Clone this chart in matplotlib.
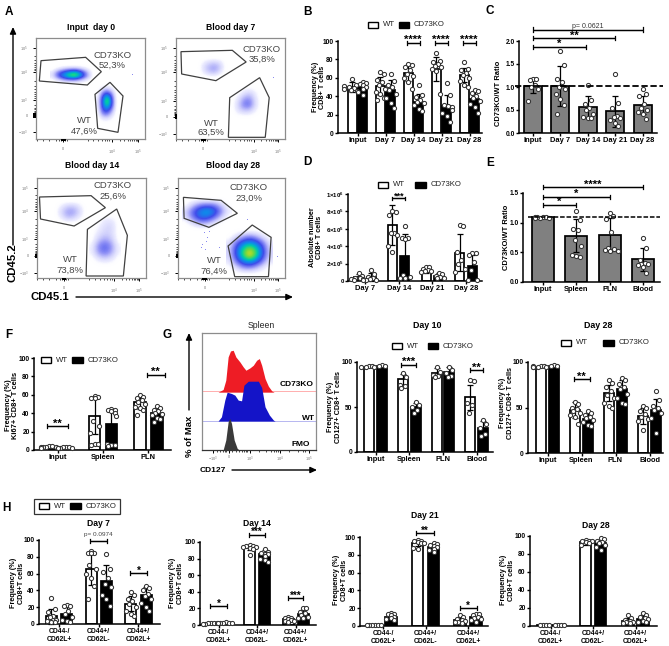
import numpy as np
import matplotlib
matplotlib.use("Agg")
import matplotlib.pyplot as plt
from matplotlib.colors import LinearSegmentedColormap
from matplotlib.patches import Polygon, Rectangle

plt.rcParams['font.family'] = ['Liberation Sans', 'DejaVu Sans']
plt.rcParams['mathtext.fontset'] = 'custom'
plt.rcParams['mathtext.rm'] = 'Liberation Sans'
plt.rcParams['mathtext.bf'] = 'Liberation Sans:bold'

# ---------- data ----------
DAYS5 = ['Input', 'Day 7', 'Day 14', 'Day 21', 'Day 28']
DAYS4 = ['Day 7', 'Day 14', 'Day 21', 'Day 28']
ORG3 = ['Input', 'Spleen', 'PLN']
ORG4 = ['Input', 'Spleen', 'PLN', 'Blood']
PHENO = ['CD44-/\nCD62L+', 'CD44+/\nCD62L-', 'CD44+/\nCD62L+']

B_WT = [50, 51, 65, 70, 63]
B_KO = [50, 47, 34, 29, 37]
B_WT_ERR = [5, 10, 9, 13, 8]
B_KO_ERR = [5, 11, 8, 12, 9]
B_WT_PTS = [[59, 52, 50, 49, 47, 46, 51, 48], [66, 64, 58, 55, 52, 48, 45, 42, 38, 36],
            [75, 74, 72, 68, 64, 62, 60, 55, 48], [87, 78, 77, 75, 73, 72, 70, 67, 42],
            [77, 70, 68, 65, 63, 60, 57, 52, 50]]
B_KO_PTS = [[55, 54, 53, 52, 50, 48, 45, 41], [64, 57, 52, 50, 47, 42, 38, 33, 27],
            [52, 41, 39, 36, 34, 33, 30, 26, 24], [54, 41, 30, 29, 28, 25, 22, 18, 12],
            [47, 46, 43, 40, 38, 35, 32, 28, 22]]

C_RATIO = [1.03, 1.02, 0.56, 0.47, 0.61]
C_ERR = [0.16, 0.43, 0.24, 0.34, 0.20]
C_PTS = [[1.18, 1.17, 1.15, 1.05, 1.0, 0.95, 0.7],
         [1.78, 1.48, 1.18, 1.1, 1.0, 0.95, 0.85, 0.75, 0.6, 0.42],
         [1.05, 0.72, 0.62, 0.55, 0.5, 0.42, 0.35, 0.32, 0.32],
         [1.28, 0.65, 0.55, 0.38, 0.35, 0.32, 0.28, 0.22, 0.15],
         [0.95, 0.85, 0.8, 0.62, 0.55, 0.5, 0.45, 0.42, 0.3]]

D_WT = [0.5e5, 6.4e5, 1.2e5, 3.25e5]
D_KO = [0.5e5, 2.9e5, 0.6e5, 1.75e5]
D_WT_ERR = [0.3e5, 2.3e5, 0.3e5, 2.1e5]
D_KO_ERR = [0.45e5, 2.5e5, 0.3e5, 1.2e5]
D_WT_PTS = [[.9e5, .6e5, .4e5, .3e5, .2e5, .2e5, .1e5],
            [8.0e5, 7.9e5, 7.6e5, 5.5e5, 5.5e5, 5.3e5, 4e5, 3.3e5],
            [1.6e5, 1.6e5, 1.4e5, 1.3e5, 1.2e5, 1.1e5, 1.0e5],
            [6.4e5, 6.3e5, 3.3e5, 2.4e5, 2.0e5, 1.4e5, 1.0e5]]
D_KO_PTS = [[1.3e5, .8e5, .5e5, .3e5, .2e5, .1e5, .1e5, .1e5],
            [6.3e5, 5.0e5, 5.0e5, 4.8e5, .7e5, .5e5, .4e5, .3e5],
            [.9e5, .8e5, .6e5, .5e5, .3e5, .3e5],
            [3.2e5, 3.2e5, 3.0e5, 2.2e5, 1.3e5, .1e5, .1e5]]

E_RATIO = [1.09, 0.78, 0.80, 0.38]
E_ERR = [0.01, 0.28, 0.28, 0.19]
E_PTS = [[1.10, 1.09, 1.08, 1.08, 1.09, 1.10, 1.08],
         [1.19, 1.05, .9, .87, .7, .6, .46, .44, .42],
         [1.17, 1.12, 1.06, .84, .57, .55, .54, .53, .52],
         [.74, .57, .37, .32, .3, .3, .28, .26, .15]]

F_WT = [3, 37.5, 52]
F_KO = [2.5, 28, 40]
F_WT_ERR = [1, 20, 7]
F_KO_ERR = [1, 16, 6]
F_WT_PTS = [[4.5, 4, 3.5, 3.5, 3, 3, 2.5], [59, 58, 57, 56, 31, 26, 18, 7, 6, 5],
            [60, 58, 56, 54, 52, 50, 47, 46, 43, 38]]
F_KO_PTS = [[3.5, 3, 3, 2.5, 2.5, 2, 2], [45, 44, 43, 42, 40, 37, 7, 5, 5, 4],
            [48, 46, 44, 42, 40, 39, 38, 35, 34, 30]]

G10_WT = [95, 81, 88, 61]
G10_KO = [96, 50, 89, 27]
G10_WT_ERR = [1, 6, 5, 14]
G10_KO_ERR = [1, 5, 5, 7]
G10_WT_PTS = [[96, 96, 95, 95], [88, 83, 74, 73, 71], [95, 89, 86, 84, 83], [80, 79, 55, 52, 43]]
G10_KO_PTS = [[97, 96, 96, 95], [56, 52, 50, 47, 43], [94, 91, 88, 85, 83], [36, 31, 27, 20, 18]]

G28_WT = [95, 47, 66, 41]
G28_KO = [96, 37, 70, 47]
G28_WT_ERR = [1, 9, 9, 9]
G28_KO_ERR = [1, 7, 10, 12]
G28_WT_PTS = [[96, 96, 95, 95, 96, 94], [56, 54, 50, 48, 46, 44, 42, 40, 32],
              [80, 77, 72, 68, 64, 60, 55, 52, 50], [52, 50, 46, 43, 40, 37, 35, 25]]
G28_KO_PTS = [[97, 96, 96, 95], [46, 44, 42, 40, 38, 36, 34, 31, 30],
              [82, 80, 76, 72, 70, 65, 60, 55, 54], [68, 58, 52, 49, 47, 44, 38, 22]]

H7_WT = [9, 65, 24]
H7_KO = [12, 51, 34]
H7_WT_ERR = [9, 19, 9]
H7_KO_ERR = [8, 19, 10]
H7_WT_PTS = [[31, 18, 14, 10, 8, 5, 3, 2, 2], [87, 85, 84, 84, 70, 66, 60, 55, 45, 30],
             [38, 35, 30, 27, 24, 20, 15, 12, 10]]
H7_KO_PTS = [[23, 22, 21, 15, 12, 8, 5, 3, 2], [83, 65, 62, 55, 48, 44, 35, 30, 22],
             [45, 43, 40, 36, 33, 30, 25, 20, 16]]

H14_WT = [2, 93, 7]
H14_KO = [2.5, 85, 13]
H14_WT_ERR = [1, 3, 2]
H14_KO_ERR = [1, 5, 5]
H14_WT_PTS = [[3, 2, 2, 2, 1.5, 1.5], [96, 95, 95, 94, 94, 93, 92, 84], [10, 9, 8, 7, 6, 5, 5, 4]]
H14_KO_PTS = [[4, 3, 3, 2.5, 2, 2], [91, 88, 87, 86, 85, 83, 80, 78, 76], [20, 20, 16, 14, 12, 10, 9, 8]]

H21_WT = [1, 93, 7]
H21_KO = [10, 89, 10]
H21_WT_ERR = [.5, 3, 3]
H21_KO_ERR = [2, 3, 3]
H21_WT_PTS = [[1, 1, 1, 1, 1, 1], [97, 96, 95, 94, 93, 93, 88, 87], [12, 10, 8, 7, 6, 5, 4, 3]]
H21_KO_PTS = [[15, 14, 13, 12, 10, 9, 8, 7], [93, 92, 91, 90, 89, 87, 85, 83], [14, 13, 12, 10, 9, 8, 7, 5]]

H28_WT = [1, 93, 6]
H28_KO = [1, 92, 8]
H28_WT_ERR = [.3, 3, 3]
H28_KO_ERR = [.3, 4, 4]
H28_WT_PTS = [[1, 1, 1, 1], [96, 95, 94, 94, 93, 92, 90], [12, 9, 7, 6, 5, 4, 3, 3]]
H28_KO_PTS = [[1, 1, 1, 1], [98, 97, 95, 93, 92, 90, 88, 85], [15, 12, 10, 9, 8, 6, 5, 4]]

# histogram outlines of panel G (channel, height above each baseline)
KO_HIST_X = [48, 63, 71, 78, 85, 93, 101, 113, 123, 131, 143, 153, 163, 171, 178, 188, 198, 208, 215]
KO_HIST_Y = [0, 8, 36, 106, 124, 126, 106, 91, 76, 66, 73, 81, 96, 101, 81, 41, 18, 4, 0]
WT_HIST_X = [48, 58, 68, 75, 88, 98, 108, 118, 125, 138, 153, 168, 178, 188, 201, 213, 218]
WT_HIST_Y = [0, 13, 63, 87, 83, 78, 63, 61, 108, 120, 120, 120, 101, 43, 18, 3, 0]
FMO_HIST_X = [63, 71, 78, 83, 88, 96, 105, 111]
FMO_HIST_Y = [0, 30, 85, 95, 80, 30, 5, 0]

# flow plots of panel A: titles, percentages, gates and density grids
FLOW_TITLES = ['Input  day 0', 'Blood day 7', 'Blood day 14', 'Blood day 28']
FLOW_KO_PCT = ['52,3%', '35,8%', '25,6%', '23,0%']
FLOW_WT_PCT = ['47,6%', '63,5%', '73,8%', '76,4%']
GATES_KO = [[(123, 182), (257, 172), (304, 215), (262, 255), (118, 243)],
            [(539, 155), (695, 151), (737, 186), (645, 242), (541, 222)],
            [(118, 591), (273, 587), (316, 623), (222, 678), (121, 657)],
            [(548, 592), (662, 601), (711, 640), (625, 682), (550, 655)]]
GATES_WT = [[(285, 283), (330, 247), (369, 288), (354, 397), (293, 385)],
            [(687, 293), (778, 233), (807, 293), (795, 412), (683, 412)],
            [(262, 688), (350, 627), (382, 706), (370, 828), (258, 828)],
            [(683, 738), (756, 675), (813, 712), (805, 830), (703, 830)]]
DENS_EXTENT = [[(150, 285, 256, 194), (288, 352, 376, 250)],
               [(588, 682, 236, 168), (688, 786, 356, 254)],
               [(158, 262, 676, 598), (268, 362, 804, 636)],
               [(544, 694, 692, 592), (678, 819, 829, 686)]]
DENS = [[[[0, 0, 0, 0, 0, 0, 0, 0], [0, .06, .14, .2, .22, .14, .05, 0], [.05, .3, .46, .6, .68, .48, .2, 0],
          [.06, .32, .5, .68, .74, .5, .22, 0], [0, .08, .18, .24, .24, .14, .04, 0], [0, 0, 0, 0, 0, 0, 0, 0]],
         [[0, 0, 0, 0, 0], [0, .1, .18, .08, 0], [0, .3, .5, .28, 0], [.04, .42, .76, .42, 0],
          [.04, .42, .72, .42, 0], [.03, .36, .5, .28, 0], [0, .24, .3, .12, 0], [0, .06, .08, .03, 0], [0, 0, 0, 0, 0]]],
        [[[0, 0, 0, 0, 0, 0], [0, .05, .1, .12, .07, 0], [0, .1, .17, .2, .12, 0],
          [0, .06, .13, .15, .05, 0], [0, 0, 0, 0, 0, 0]],
         [[0, 0, 0, 0, 0, 0], [0, 0, .05, .1, .04, 0], [0, .05, .18, .22, .08, 0],
          [0, .1, .26, .3, .1, 0], [0, .07, .13, .12, .04, 0], [0, 0, 0, 0, 0, 0]]],
        [[[0, 0, 0, 0, 0, 0], [0, .05, .12, .13, .06, 0], [0, .1, .2, .2, .1, 0],
          [0, .05, .15, .12, .04, 0], [0, 0, 0, 0, 0, 0]],
         [[0, 0, 0, 0, 0], [0, 0, .06, .07, 0], [0, .03, .09, .1, 0], [0, .06, .11, .09, 0],
          [0, .12, .2, .13, 0], [.03, .24, .32, .22, .03], [.03, .2, .28, .18, .03],
          [0, .06, .1, .06, 0], [0, 0, 0, 0, 0]]],
        [[[0, 0, 0, 0, 0, 0, 0], [0, .12, .26, .3, .28, .12, 0], [.08, .3, .48, .58, .46, .24, .04],
          [.06, .27, .44, .46, .32, .11, 0], [0, .08, .2, .18, .06, 0, 0], [0, 0, 0, 0, 0, 0, 0]],
         [[0, 0, 0, 0, 0, 0, 0], [0, .07, .18, .26, .18, .07, 0], [.05, .27, .46, .56, .46, .26, .05],
          [.09, .38, .64, .82, .66, .38, .09], [.09, .38, .68, .94, .7, .38, .09],
          [.05, .27, .48, .58, .46, .25, .05], [0, .08, .22, .26, .17, .06, 0], [0, 0, 0, 0, 0, 0, 0]]]]
STRAY_X = [610, 618, 605, 612, 625, 600, 615, 740, 655, 830, 395, 820]
STRAY_Y = [700, 715, 735, 750, 695, 745, 725, 660, 745, 770, 225, 235]

W, H = 669, 646
fig = plt.figure(figsize=(W / 100, H / 100), dpi=100, facecolor='white')


def make_ax(l, t, r, b):
    return fig.add_axes([l / W, 1 - b / H, (r - l) / W, (b - t) / H])


def style(ax):
    ax.patch.set_alpha(0)
    for s in ['top', 'right']:
        ax.spines[s].set_visible(False)
    for s in ['left', 'bottom']:
        ax.spines[s].set_linewidth(1.1)
    ax.tick_params(length=2.2, width=1.0, pad=0.9, labelsize=5.4)
    ax.tick_params(axis='y', labelsize=4.8)
    for lab in ax.get_xticklabels() + ax.get_yticklabels():
        lab.set_fontweight('bold')


PREFERRED = [0, 2, -2, 1, -1, 3, -3]


def swarm(vals, pxu, lim):
    placed = []
    out = []
    for j, v in enumerate(vals):
        y = v * pxu
        first = PREFERRED[j % len(PREFERRED)]
        for k in [first, 0, 1, -1, 2, -2, 3, -3, 4, -4, 5, -5]:
            dx = k * 1.6
            if abs(dx) > lim:
                continue
            if all((dx - a) ** 2 + (y - b) ** 2 > 6.0 for a, b in placed):
                break
        placed.append((dx, y))
        out.append(dx)
    return np.array(out)


def draw_points(ax, xc, sp, vals, pxu, lim):
    dx = swarm(vals, pxu, lim) / sp
    ax.plot(xc + dx, vals, 'o', ms=3.0, mfc='white', mec='#333333', mew=0.75,
            ls='none', zorder=5, clip_on=False)


def bar_axes(geom, c0, sp, ymax, labels, yticks, ylabels=None):
    l, t, r, b = geom
    ax = make_ax(l, t, r, b)
    ax.set_xlim((l - c0) / sp, (r - c0) / sp)
    ax.set_ylim(0, ymax)
    ax.set_xticks(range(len(labels)))
    ax.set_xticklabels(labels)
    ax.set_yticks(yticks)
    ax.set_yticklabels(ylabels if ylabels else [str(v) for v in yticks])
    style(ax)
    ax.pxu = (b - t) / ymax
    ax.sp = sp
    return ax


def paired(geom, c0, sp, off, w, ymax, labels, yticks, wt, ko, wte, koe, wtp, kop, ylabels=None):
    ax = bar_axes(geom, c0, sp, ymax, labels, yticks, ylabels)
    x = np.arange(len(labels))
    for xx, m, e, p, col in [(x - off / sp, wt, wte, wtp, 'white'), (x + off / sp, ko, koe, kop, 'black')]:
        ax.bar(xx, m, width=w / sp, color=col, edgecolor='black', linewidth=1.25, zorder=2)
        ax.errorbar(xx, m, yerr=e, fmt='none', ecolor='black', elinewidth=0.9,
                    capsize=1.9, capthick=0.9, zorder=4, clip_on=False)
        for i in range(len(xx)):
            draw_points(ax, xx[i], sp, p[i], ax.pxu, w / 2 + 1)
    return ax


def single(geom, c0, sp, w, ymax, labels, yticks, vals, errs, pts):
    ax = bar_axes(geom, c0, sp, ymax, labels, yticks)
    x = np.arange(len(labels))
    ax.bar(x, vals, width=w / sp, color='#808080', edgecolor='black', linewidth=1.25, zorder=2)
    ax.errorbar(x, vals, yerr=errs, fmt='none', ecolor='black', elinewidth=0.9,
                capsize=2.2, capthick=0.9, zorder=4, clip_on=False)
    for i in range(len(x)):
        draw_points(ax, x[i], sp, pts[i], ax.pxu, w / 2 - 1)
    return ax


def bracket(ax, x1, x2, y, text='', size=8, tick=2.0, dy=-1.0, **kw):
    d = tick / ax.pxu
    ax.plot([x1, x1, x2, x2], [y - d, y, y, y - d], color='black', lw=0.9, zorder=6,
            clip_on=False, solid_joinstyle='miter')
    ax.plot([x1, x1, x2, x2], [y + d, y, y, y + d], color='black', lw=0.9, zorder=6,
            clip_on=False, solid_joinstyle='miter')
    params = dict(fontsize=size, fontweight='bold', ha='center', va='center', clip_on=False, zorder=7)
    params.update(kw)
    ax.text((x1 + x2) / 2, y + (2.6 - dy - 1) / ax.pxu, text, **params)


# ---------- overlay in picture pixels for free text ----------
ov = fig.add_axes([0, 0, 1, 1], zorder=20)
ov.set_xlim(0, W)
ov.set_ylim(H, 0)
ov.axis('off')
ov.patch.set_alpha(0)


def T(x, y, s, size=5.6, bold=True, ha='center', va='center', rot=0, color='black', ls=1.05):
    ov.text(x, y, s, fontsize=size, fontweight='bold' if bold else 'normal', ha=ha, va=va,
            rotation=rot, color=color, linespacing=ls)


def arrow(x0, y0, x1, y1):
    ov.annotate('', xy=(x1, y1), xytext=(x0, y0),
                arrowprops=dict(arrowstyle='-|>,head_width=0.13,head_length=0.28', color='black',
                                lw=1.0, shrinkA=0, shrinkB=0, mutation_scale=14))


def legend(xw, xb, y, labw='WT', labk='CD73KO'):
    ov.add_patch(Rectangle((xw, y - 3), 10, 6, fc='white', ec='black', lw=1.0))
    ov.add_patch(Rectangle((xb, y - 3), 10.5, 6, fc='black', ec='black', lw=1.0))
    T(xw + 15, y, labw, size=5.6, bold=False, ha='left', color='#222222')
    T(xb + 15.5, y, labk, size=5.6, bold=False, ha='left', color='#222222')


for (x, y, s) in [(9, 12, 'A'), (307, 12, 'B'), (490, 11, 'C'), (307, 162, 'D'), (490, 163, 'E'),
                  (9, 335, 'F'), (167, 335, 'G'), (6, 508, 'H')]:
    T(x, y, s, size=8.5)

# ---------- panel A ----------
cmap = LinearSegmentedColormap.from_list('flow', [
    (0.0, (1, 1, 1, 0)), (0.04, (.88, .88, 1, .6)), (0.2, (.6, .6, .97, 1)), (0.35, (.25, .3, .92, 1)),
    (0.5, (.05, .55, .92, 1)), (0.62, (0, .8, .65, 1)), (0.75, (.45, .85, .25, 1)), (0.87, (.95, .85, .1, 1)),
    (1.0, (.95, .3, .1, 1))])
cmap.set_under((1, 1, 1, 0))
boxes = [(107, 113, 435, 418), (527, 113, 855, 418), (110, 533, 437, 835), (533, 533, 855, 835)]
xtk = [[190, 335, 415], [607, 760, 835], [192, 342, 418], [612, 760, 835]]
ytk = [[145, 217, 300, 347, 397], [145, 217, 303, 350, 403], [563, 633, 718, 768, 818], [565, 633, 718, 768, 820]]
ko_txt = [(337, 165, 195), (786, 149, 178), (338, 558, 588), (746, 564, 595)]
wt_txt = [(252, 362, 393), (633, 370, 398), (211, 780, 812), (642, 782, 813)]
ttl = [(91, 27), (231, 27), (92, 166), (233, 166)]
for i, (a, b, c, d) in enumerate(boxes):
    ax = make_ax(a / 3, b / 3, c / 3, d / 3)
    for k in range(2):
        e = DENS_EXTENT[i][k]
        ax.imshow(np.array(DENS[i][k]), extent=e, cmap=cmap, vmin=0, vmax=1, aspect='auto',
                  interpolation='bicubic', origin='upper', zorder=2)
    for g in (GATES_KO[i], GATES_WT[i]):
        ax.add_patch(Polygon(g, closed=True, fill=False, ec='#404040', lw=0.9, zorder=3))
    ax.set_xlim(a, c)
    ax.set_ylim(d, b)
    mask = [a < xs < c and b < ys < d for xs, ys in zip(STRAY_X, STRAY_Y)]
    ax.plot(np.array(STRAY_X)[mask], np.array(STRAY_Y)[mask], ',', color='#8a8af0', zorder=2)
    for s in ax.spines.values():
        s.set_color('#8c8c8c')
        s.set_linewidth(0.9)
    x0, x4, x5 = xtk[i]
    ax.set_xticks([x0, x4, x5])
    ax.set_xticklabels(['0', r'$10^4$', r'$10^5$'], fontsize=2.8, color='#777777')
    yy = ytk[i]
    ax.set_yticks(yy)
    ax.set_yticklabels([r'$10^5$', r'$10^4$', r'$10^3$', '0', r'$-10^3$'], fontsize=2.8, color='#777777')
    minor_x = [x0 + (x4 - x0) * f for f in (-.55, -.42, -.3, -.16, -.08, -.04, .04, .08, .5, .62, .72, .8, .86, .91, .95)]
    minor_x += [x4 + (x5 - x4) * f for f in np.log10(np.arange(2, 10))]
    ax.set_xticks(minor_x, minor=True)
    minor_y = [yy[j] + (yy[j + 1] - yy[j]) * f for j in range(3) for f in (.3, .48, .6, .7, .78, .85, .92)]
    ax.set_yticks(minor_y, minor=True)
    ax.tick_params(axis='both', which='major', length=2.2, width=0.7, pad=3.5)
    ax.tick_params(axis='both', which='minor', length=1.2, width=0.5)
    ax.add_patch(Rectangle((x0 - 7, d), 14, 6, fc='black', ec='none', clip_on=False, zorder=4))
    ax.add_patch(Rectangle((a - 7, yy[3] - 7), 7, 14, fc='black', ec='none', clip_on=False, zorder=4))
    T(ttl[i][0], ttl[i][1], FLOW_TITLES[i], size=6.2)
    T(ko_txt[i][0] / 3, ko_txt[i][1] / 3, 'CD73KO', size=6.8, bold=False, color='#444444')
    T(ko_txt[i][0] / 3, ko_txt[i][2] / 3, FLOW_KO_PCT[i], size=6.8, bold=False, color='#444444')
    T(wt_txt[i][0] / 3, wt_txt[i][1] / 3, 'WT', size=6.8, bold=False, color='#444444')
    T(wt_txt[i][0] / 3, wt_txt[i][2] / 3, FLOW_WT_PCT[i], size=6.8, bold=False, color='#444444')
T(13, 263, 'CD45.2', size=8.2, rot=90)
T(50, 297, 'CD45.1', size=8.2)
arrow(13, 245, 13, 27)
arrow(76, 297, 293, 297)

# ---------- panel B ----------
axB = paired((338, 41, 482, 133), 357.5, 28, 5.2, 9, 100, DAYS5, [0, 20, 40, 60, 80, 100],
             B_WT, B_KO, B_WT_ERR, B_KO_ERR, B_WT_PTS, B_KO_PTS)
for i in (2, 3, 4):
    bracket(axB, i - .24, i + .22, 98, '****', size=8)
T(319, 87, 'Frequency (%)\nCD8+ T cells', rot=90, size=5.2)
legend(368, 398.5, 25)

# ---------- panel C ----------
axC = single((519, 41, 657, 133), 533, 27.4, 18, 2.0, DAYS5, [0, .5, 1, 1.5, 2], C_RATIO, C_ERR, C_PTS)
axC.set_yticklabels(['0.0', '0.5', '1.0', '1.5', '2.0'])
axC.plot([-.65, 4.75], [C_RATIO[0]] * 2, color='black', lw=1.3, ls=(0, (3.5, 1.5)), zorder=6, clip_on=False)
bracket(axC, 0, 1.92, 1.88, '*', size=8)
bracket(axC, 0, 3, 2.06, '**', size=8)
bracket(axC, 0, 4, 2.25, 'p= 0.0621', size=5, fontweight='normal', color='#333333')
T(498, 93, 'CD73KO/WT Ratio', rot=90, size=5.4)

# ---------- panel D ----------
dlab = ['0'] + [r'$\mathbf{%d{\times}10^{5}}$' % v for v in (2, 4, 6, 8)] + [r'$\mathbf{1{\times}10^{6}}$']
axD = paired((348, 194, 482, 281), 365, 33.7, 6.3, 9, 1e6, DAYS4, [0, 2e5, 4e5, 6e5, 8e5, 1e6],
             D_WT, D_KO, D_WT_ERR, D_KO_ERR, D_WT_PTS, D_KO_PTS, ylabels=dlab)
axD.tick_params(axis='y', labelsize=4.4)
bracket(axD, 1 - .2, 1 + .2, 9.5e5, '***', size=6.5, tick=1.6)
T(316, 237, 'Absolute number\nCD8+ T cells', rot=90, size=5.2)
legend(378, 415, 185)

# ---------- panel E ----------
axE = single((523, 193, 660, 282), 543, 33.3, 22, 1.5, ORG4, [0, .5, 1, 1.5], E_RATIO, E_ERR, E_PTS)
axE.set_yticklabels(['0.0', '0.5', '1.0', '1.5'])
axE.plot([-.45, 3.5], [E_RATIO[0]] * 2, color='black', lw=1.1, ls=(0, (3, 1.2)), zorder=6, clip_on=False)
bracket(axE, 0, 1, 1.30, '*', size=8)
bracket(axE, 0, 2, 1.44, '*', size=8)
bracket(axE, 0, 3, 1.60, '****', size=8)
T(506, 237, 'CD73KO/WT Ratio', rot=90, size=5.4)

# ---------- panel F ----------
axF = paired((34, 358, 171, 450), 57.5, 45.5, 8.4, 11.5, 100, ORG3, [0, 20, 40, 60, 80, 100],
             F_WT, F_KO, F_WT_ERR, F_KO_ERR, F_WT_PTS, F_KO_PTS)
bracket(axF, -.22, .22, 26, '**', size=8)
bracket(axF, 1.96, 2.36, 82, '**', size=8)
T(12, 405, 'Frequency (%)\nKi67+ CD8+ T cells', rot=90, size=5.4)
legend(41, 72, 360)

# ---------- panel G histograms ----------
axG = make_ax(202, 333, 316, 450)
axG.set_xlim(0, 340)
axG.set_ylim(0, 352)
axG.axhspan(175, 178, color='#ffb0b0', lw=0, zorder=1)
axG.axhspan(85, 88.5, color='#b8b8f0', lw=0, zorder=1)
axG.fill_between(KO_HIST_X, np.array(KO_HIST_Y) + 174, 174, color='#ee1c25', lw=0, zorder=2)
axG.fill_between(WT_HIST_X, np.array(WT_HIST_Y) + 87, 87, color='#1414c8', lw=0, zorder=3)
axG.fill_between(FMO_HIST_X, FMO_HIST_Y, 0, color='#3a3a3a', lw=0, zorder=4)
for s in ['top', 'left', 'right']:
    axG.spines[s].set_color('#8c8c8c')
    axG.spines[s].set_linewidth(0.9)
axG.spines['bottom'].set_color('#333333')
axG.spines['bottom'].set_linewidth(0.9)
axG.set_xticks([33, 80, 143, 233, 318])
axG.set_xticklabels([r'$-10^3$', '0', r'$10^3$', r'$10^4$', r'$10^5$'], fontsize=2.8, color='#777777')
axG.set_xticks([45, 55, 62, 68, 73, 90, 100, 110, 118, 124, 130, 135, 170, 190, 205, 215, 222, 228, 260, 285, 300, 308], minor=True)
axG.tick_params(axis='x', which='major', length=2, width=0.7, pad=1.5)
axG.tick_params(axis='x', which='minor', length=1.1, width=0.5)
axG.set_yticks([])
T(261, 325, 'Spleen', size=6.2, bold=False, color='#222222')
T(313, 384, 'CD73KO', size=6.0, ha='right')
T(315, 418, 'WT', size=6.0, ha='right')
T(310, 444, 'FMO', size=6.0, ha='right')
T(189, 436, '% of Max', size=6.8, rot=90)
arrow(189, 410, 189, 333)
T(213, 470, 'CD127', size=6.0)
arrow(232, 470, 317, 470)

# ---------- panel G bars ----------
axG10 = paired((357, 362, 493, 452), 375.5, 33.7, 6.3, 10, 100, ORG4, [0, 50, 100],
               G10_WT, G10_KO, G10_WT_ERR, G10_KO_ERR, G10_WT_PTS, G10_KO_PTS)
bracket(axG10, 1 - .23, 1 + .21, 97, '***', size=8)
bracket(axG10, 3 - .2, 3 + .2, 90.7, '**', size=8)
T(427, 325, 'Day 10', size=6.4)
T(334.5, 407, 'Frequency (%)\nCD127+ CD8+ T cells', rot=90, size=5.2)
legend(392, 427.5, 346)

axG28 = paired((528, 362, 663, 453), 547.5, 34, 6.5, 10, 100, ORG4, [0, 50, 100],
               G28_WT, G28_KO, G28_WT_ERR, G28_KO_ERR, G28_WT_PTS, G28_KO_PTS)
bracket(axG28, 1 - .22, 1 + .24, 81, '**', size=8)
T(598, 325, 'Day 28', size=6.4)
T(506.5, 403, 'Frequency (%)\nCD127+ CD8+ T cells', rot=90, size=5.2)
legend(561, 603, 343)

# ---------- panel H ----------
ov.add_patch(Rectangle((34, 499), 86, 15, fc='white', ec='#333333', lw=0.9))
legend(39, 70, 506)
Hticks = [0, 20, 40, 60, 80, 100]
axH7 = paired((39, 540, 160, 624), 59, 39.7, 7.7, 11, 100, PHENO, Hticks,
              H7_WT, H7_KO, H7_WT_ERR, H7_KO_ERR, H7_WT_PTS, H7_KO_PTS)
bracket(axH7, 1 - .21, 1 + .21, 99, 'p= 0.0974', size=4.6, fontweight='normal', color='#444444', dy=-5)
bracket(axH7, 2 - .22, 2 + .22, 60.5, '*', size=7)
T(98, 524, 'Day 7', size=6.2)
T(17.5, 583, 'Frequency (%)\nCD8+T cells', rot=90, size=5.2)

axH14 = paired((200, 542, 316, 625), 218.5, 38.5, 7.5, 11, 100, PHENO, Hticks,
               H14_WT, H14_KO, H14_WT_ERR, H14_KO_ERR, H14_WT_PTS, H14_KO_PTS)
bracket(axH14, -.22, .22, 22.6, '*', size=7)
bracket(axH14, 1 - .2, 1 + .2, 109, '***', size=7)
bracket(axH14, 2 - .2, 2 + .2, 32, '***', size=7)
T(257, 523, 'Day 14', size=6.2)
T(176.5, 583, 'Frequency (%)\nCD8+T cells', rot=90, size=5.2)

axH21 = paired((360, 537, 488, 626), 383, 42.5, 8, 11.5, 100, PHENO, Hticks,
               H21_WT, H21_KO, H21_WT_ERR, H21_KO_ERR, H21_WT_PTS, H21_KO_PTS)
bracket(axH21, 1 - .22, 1 + .2, 104.5, '**', size=7)
bracket(axH21, 2 - .2, 2 + .2, 20, '*', size=7)
T(425, 515, 'Day 21', size=6.2)
T(340.5, 580, 'Frequency (%)\nCD8+T cells', rot=90, size=5.2)

axH28 = paired((530, 536, 657, 626), 550.5, 42.5, 7.5, 11.5, 100, PHENO, Hticks,
               H28_WT, H28_KO, H28_WT_ERR, H28_KO_ERR, H28_WT_PTS, H28_KO_PTS)
T(596, 526, 'Day 28', size=6.2)
T(507.5, 580, 'Frequency (%)\nCD8+T cells', rot=90, size=5.2)

for a in (axH7, axH14, axH21, axH28):
    a.tick_params(axis='x', labelsize=4.9)

fig.savefig('out.png', dpi=100)
